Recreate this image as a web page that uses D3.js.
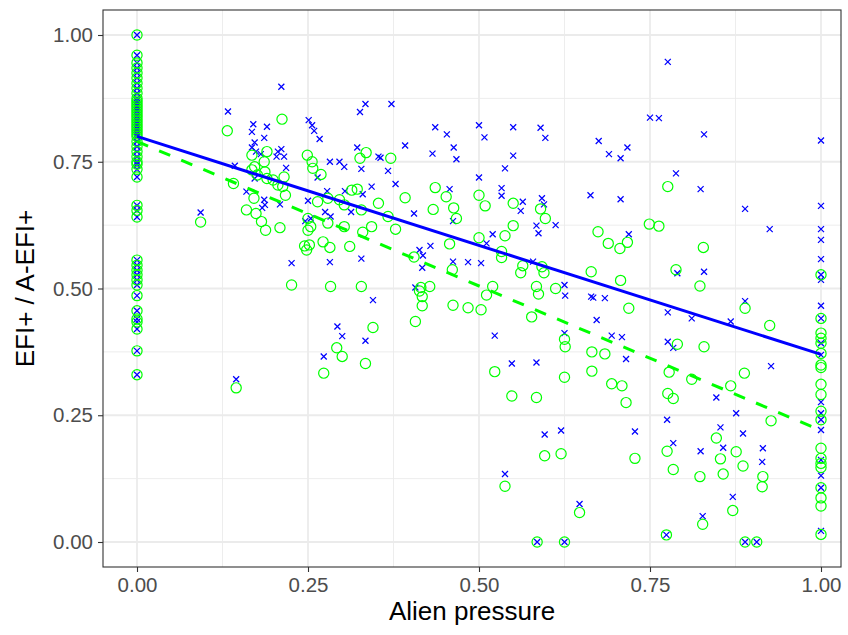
<!DOCTYPE html>
<html>
<head>
<meta charset="utf-8">
<script src="https://cdn.jsdelivr.net/npm/d3@7"></script>
<style>
  html, body { margin: 0; padding: 0; background: #fff; }
  svg { display: block; font-family: "Liberation Sans", Arial, Helvetica, sans-serif; }
</style>
</head>
<body>
<svg id="chart" width="848" height="635"></svg>
<script>
// Sites with no alien pressure: EFI+ and A-EFI+ coincide
const zeroPressureEfi = [
  [0,1.00],[0,0.960],[0,0.945],[0,0.935],[0,0.925],[0,0.915],[0,0.905],[0,0.895],
  [0,0.885],[0,0.875],[0,0.870],[0,0.865],[0,0.860],[0,0.855],[0,0.850],[0,0.845],
  [0,0.840],[0,0.835],[0,0.830],[0,0.825],[0,0.820],[0,0.815],[0,0.810],[0,0.805],
  [0,0.800],[0,0.790],[0,0.780],[0,0.770],[0,0.760],[0,0.750],[0,0.745],[0,0.735],
  [0,0.720],[0,0.664],[0,0.654],[0,0.641],[0,0.556],[0,0.546],[0,0.536],[0,0.527],
  [0,0.517],[0,0.507],[0,0.486],[0,0.456],[0,0.440],[0,0.434],[0,0.420],[0,0.377],[0,0.330]
];
const zeroPressureAefi = [
  [0,1.00],[0,0.960],[0,0.945],[0,0.935],[0,0.925],[0,0.915],[0,0.905],[0,0.895],
  [0,0.885],[0,0.875],[0,0.870],[0,0.865],[0,0.860],[0,0.855],[0,0.850],[0,0.845],
  [0,0.840],[0,0.835],[0,0.830],[0,0.825],[0,0.820],[0,0.815],[0,0.810],[0,0.805],
  [0,0.800],[0,0.790],[0,0.780],[0,0.770],[0,0.760],[0,0.750],[0,0.745],[0,0.735],
  [0,0.720],[0,0.664],[0,0.654],[0,0.641],[0,0.556],[0,0.546],[0,0.536],[0,0.527],
  [0,0.517],[0,0.507],[0,0.486],[0,0.456],[0,0.440],[0,0.434],[0,0.420],[0,0.377],[0,0.330]
];

// EFI+ (crosses): [alien pressure, index]
const efiPoints = [
  [0.093,0.650],[0.133,0.849],[0.143,0.742],[0.145,0.321],[0.160,0.691],[0.168,0.809],
  [0.168,0.778],[0.170,0.824],[0.172,0.788],[0.172,0.717],[0.174,0.770],[0.181,0.765],
  [0.183,0.659],[0.186,0.797],[0.186,0.675],[0.187,0.665],[0.190,0.819],[0.204,0.760],
  [0.206,0.770],[0.209,0.666],[0.211,0.775],[0.211,0.898],[0.215,0.760],[0.218,0.738],
  [0.226,0.550],[0.246,0.633],[0.250,0.673],[0.251,0.832],[0.254,0.638],[0.256,0.822],
  [0.259,0.811],[0.264,0.719],[0.267,0.795],[0.273,0.366],[0.275,0.651],[0.278,0.692],
  [0.282,0.750],[0.282,0.552],[0.283,0.642],[0.293,0.425],[0.296,0.750],[0.300,0.406],
  [0.303,0.740],[0.304,0.692],[0.313,0.651],[0.322,0.778],[0.326,0.848],[0.328,0.736],
  [0.328,0.559],[0.330,0.686],[0.334,0.864],[0.334,0.397],[0.343,0.701],[0.345,0.477],
  [0.353,0.760],[0.356,0.758],[0.367,0.732],[0.372,0.864],[0.378,0.706],[0.392,0.782],
  [0.405,0.648],[0.407,0.502],[0.413,0.576],[0.417,0.541],[0.418,0.565],[0.429,0.584],
  [0.432,0.766],[0.436,0.818],[0.453,0.804],[0.457,0.696],[0.462,0.633],[0.462,0.553],
  [0.463,0.778],[0.467,0.755],[0.484,0.552],[0.500,0.822],[0.500,0.719],[0.503,0.550],
  [0.508,0.798],[0.511,0.589],[0.520,0.607],[0.523,0.407],[0.533,0.698],[0.533,0.683],
  [0.538,0.737],[0.538,0.134],[0.548,0.352],[0.550,0.818],[0.550,0.762],[0.561,0.653],
  [0.564,0.671],[0.579,0.553],[0.584,0.624],[0.584,0.354],[0.585,0.000],[0.587,0.609],
  [0.590,0.817],[0.592,0.678],[0.595,0.666],[0.596,0.212],[0.597,0.797],[0.612,0.625],
  [0.620,0.220],[0.625,0.507],[0.626,0.486],[0.625,0.412],[0.625,0.000],[0.647,0.075],
  [0.664,0.484],[0.663,0.684],[0.667,0.482],[0.672,0.438],[0.675,0.791],[0.684,0.481],
  [0.690,0.765],[0.694,0.407],[0.707,0.757],[0.707,0.676],[0.709,0.404],[0.715,0.361],
  [0.717,0.778],[0.719,0.607],[0.728,0.218],[0.750,0.837],[0.763,0.836],[0.774,0.014],
  [0.775,0.241],[0.776,0.947],[0.776,0.453],[0.776,0.395],[0.784,0.383],[0.784,0.195],
  [0.788,0.727],[0.790,0.530],[0.811,0.441],[0.824,0.696],[0.824,0.179],[0.827,0.051],
  [0.829,0.804],[0.829,0.533],[0.847,0.285],[0.853,0.226],[0.857,0.186],[0.868,0.435],
  [0.871,0.089],[0.876,0.254],[0.886,0.214],[0.889,0.657],[0.889,0.475],[0.889,0.000],
  [0.906,0.000],[0.914,0.158],[0.915,0.185],[0.925,0.617],[0.927,0.347],
  [1,0.792],[1,0.663],[1,0.617],[1,0.596],[1,0.558],[1,0.527],[1,0.517],[1,0.466],
  [1,0.441],[1,0.392],[1,0.369],[1,0.276],[1,0.254],[1,0.241],[1,0.221],[1,0.162],
  [1,0.131],[1,0.107],[1,0.022]
];

// A-EFI+ (circles): [alien pressure, index]
const aefiPoints = [
  [0.093,0.631],[0.132,0.811],[0.141,0.707],[0.145,0.304],[0.160,0.655],[0.168,0.763],
  [0.168,0.734],[0.171,0.678],[0.172,0.740],[0.174,0.648],[0.176,0.724],[0.182,0.632],
  [0.186,0.750],[0.187,0.730],[0.188,0.615],[0.190,0.770],[0.190,0.717],[0.199,0.714],
  [0.206,0.704],[0.209,0.620],[0.212,0.834],[0.213,0.701],[0.215,0.720],[0.217,0.684],
  [0.226,0.507],[0.245,0.584],[0.248,0.576],[0.249,0.763],[0.250,0.638],[0.250,0.615],
  [0.252,0.586],[0.254,0.622],[0.256,0.750],[0.257,0.737],[0.264,0.671],[0.269,0.725],
  [0.272,0.592],[0.273,0.333],[0.279,0.678],[0.279,0.629],[0.282,0.581],[0.283,0.504],
  [0.292,0.383],[0.296,0.675],[0.300,0.366],[0.303,0.665],[0.303,0.622],[0.311,0.583],
  [0.314,0.694],[0.322,0.696],[0.326,0.757],[0.328,0.655],[0.328,0.504],[0.330,0.611],
  [0.334,0.352],[0.335,0.768],[0.343,0.622],[0.345,0.423],[0.353,0.668],[0.367,0.642],
  [0.371,0.757],[0.378,0.617],[0.392,0.679],[0.405,0.562],[0.407,0.435],[0.413,0.495],
  [0.415,0.502],[0.417,0.484],[0.417,0.466],[0.428,0.504],[0.433,0.656],[0.436,0.699],
  [0.452,0.681],[0.457,0.588],[0.461,0.537],[0.462,0.467],[0.463,0.659],[0.467,0.638],
  [0.484,0.462],[0.500,0.684],[0.500,0.600],[0.503,0.458],[0.509,0.663],[0.511,0.487],
  [0.520,0.504],[0.523,0.336],[0.533,0.573],[0.533,0.561],[0.538,0.604],[0.538,0.110],
  [0.548,0.288],[0.550,0.668],[0.550,0.624],[0.561,0.531],[0.564,0.545],[0.577,0.444],
  [0.584,0.504],[0.584,0.285],[0.585,0.000],[0.587,0.489],[0.590,0.657],[0.592,0.543],
  [0.595,0.531],[0.596,0.170],[0.597,0.638],[0.612,0.500],[0.620,0.174],[0.625,0.400],
  [0.626,0.385],[0.625,0.325],[0.625,0.000],[0.647,0.058],[0.664,0.533],[0.665,0.375],
  [0.665,0.337],[0.674,0.612],[0.684,0.371],[0.689,0.589],[0.694,0.312],[0.706,0.579],
  [0.707,0.516],[0.709,0.308],[0.715,0.275],[0.717,0.591],[0.719,0.461],[0.728,0.165],
  [0.749,0.627],[0.763,0.623],[0.774,0.014],[0.775,0.179],[0.776,0.701],[0.776,0.293],
  [0.778,0.335],[0.784,0.283],[0.784,0.143],[0.788,0.537],[0.790,0.390],[0.811,0.321],
  [0.823,0.505],[0.823,0.129],[0.827,0.035],[0.828,0.581],[0.829,0.385],[0.847,0.205],
  [0.853,0.164],[0.857,0.134],[0.868,0.308],[0.871,0.062],[0.876,0.178],[0.886,0.150],
  [0.888,0.333],[0.889,0.461],[0.889,0.000],[0.906,0.000],[0.914,0.109],[0.915,0.129],
  [0.925,0.427],[0.927,0.239],
  [1,0.527],[1,0.441],[1,0.412],[1,0.402],[1,0.392],[1,0.372],[1,0.349],[1,0.344],
  [1,0.311],[1,0.291],[1,0.258],[1,0.241],[1,0.185],[1,0.165],[1,0.155],[1,0.147],
  [1,0.107],[1,0.087],[1,0.071],[1,0.015]
];

// Linear fits: [intercept, slope]
const efiFit = [0.800, -0.430];
const aefiFit = [0.790, -0.570];

const xTicks = [0, 0.25, 0.5, 0.75, 1];
const yTicks = [0, 0.25, 0.5, 0.75, 1];
const xMinor = [0.125, 0.375, 0.625, 0.875];
const yMinor = [0.125, 0.375, 0.625, 0.875];
const xTitle = "Alien pressure";
const yTitle = "EFI+ / A-EFI+";

const svg = d3.select("#chart");
const panel = { left: 103, top: 10, right: 841, bottom: 567 };

const x = d3.scaleLinear().domain([0, 1]).range([137, 821]);
const y = d3.scaleLinear().domain([0, 1]).range([542, 35]);

const fmt = d3.format(".2f");

// panel background and grid
svg.append("rect")
  .attr("x", panel.left).attr("y", panel.top)
  .attr("width", panel.right - panel.left).attr("height", panel.bottom - panel.top)
  .attr("fill", "#fff");

const grid = svg.append("g");
grid.selectAll("line.xminor").data(xMinor).join("line")
  .attr("x1", d => x(d)).attr("x2", d => x(d))
  .attr("y1", panel.top).attr("y2", panel.bottom)
  .attr("stroke", "#EBEBEB").attr("stroke-width", 0.9);
grid.selectAll("line.yminor").data(yMinor).join("line")
  .attr("y1", d => y(d)).attr("y2", d => y(d))
  .attr("x1", panel.left).attr("x2", panel.right)
  .attr("stroke", "#EBEBEB").attr("stroke-width", 0.9);
grid.selectAll("line.xmajor").data(xTicks).join("line")
  .attr("x1", d => x(d)).attr("x2", d => x(d))
  .attr("y1", panel.top).attr("y2", panel.bottom)
  .attr("stroke", "#EBEBEB").attr("stroke-width", 1.8);
grid.selectAll("line.ymajor").data(yTicks).join("line")
  .attr("y1", d => y(d)).attr("y2", d => y(d))
  .attr("x1", panel.left).attr("x2", panel.right)
  .attr("stroke", "#EBEBEB").attr("stroke-width", 1.8);

// clip marks to the panel
svg.append("clipPath").attr("id", "panel-clip").append("rect")
  .attr("x", panel.left).attr("y", panel.top)
  .attr("width", panel.right - panel.left).attr("height", panel.bottom - panel.top);
const plot = svg.append("g").attr("clip-path", "url(#panel-clip)");

const efiAll = zeroPressureEfi.concat(efiPoints);
const aefiAll = zeroPressureAefi.concat(aefiPoints);

// EFI+ crosses
const cs = 3.0;
plot.append("g").selectAll("path").data(efiAll).join("path")
  .attr("transform", d => `translate(${x(d[0])},${y(d[1])})`)
  .attr("d", `M${-cs},${-cs}L${cs},${cs}M${-cs},${cs}L${cs},${-cs}`)
  .attr("stroke", "#0000FF").attr("stroke-width", 1.25).attr("fill", "none");

// A-EFI+ open circles
plot.append("g").selectAll("circle").data(aefiAll).join("circle")
  .attr("cx", d => x(d[0])).attr("cy", d => y(d[1]))
  .attr("r", 5.1)
  .attr("fill", "none").attr("stroke", "#00FF00").attr("stroke-width", 1.2);

// fitted lines across the pressure range
const fitLine = f => d3.line()
  .x(d => x(d))
  .y(d => y(f[0] + f[1] * d));
const fitDomain = [0, 1];

plot.append("path").datum(fitDomain)
  .attr("d", fitLine(efiFit))
  .attr("stroke", "#0000FF").attr("stroke-width", 3).attr("fill", "none");
plot.append("path").datum(fitDomain)
  .attr("d", fitLine(aefiFit))
  .attr("stroke", "#00FF00").attr("stroke-width", 3).attr("fill", "none")
  .attr("stroke-dasharray", "12,12");

// panel border
svg.append("rect")
  .attr("x", panel.left).attr("y", panel.top)
  .attr("width", panel.right - panel.left).attr("height", panel.bottom - panel.top)
  .attr("fill", "none").attr("stroke", "#333333").attr("stroke-width", 1.1);

// axes
const xAxis = d3.axisBottom(x).tickValues(xTicks).tickFormat(fmt).tickSize(5).tickPadding(5);
const yAxis = d3.axisLeft(y).tickValues(yTicks).tickFormat(fmt).tickSize(5).tickPadding(5);

const gx = svg.append("g").attr("transform", `translate(0,${panel.bottom})`).call(xAxis);
const gy = svg.append("g").attr("transform", `translate(${panel.left},0)`).call(yAxis);
[gx, gy].forEach(g => {
  g.select(".domain").remove();
  g.selectAll(".tick line").attr("stroke", "#333333").attr("stroke-width", 1.1);
  g.selectAll(".tick text").attr("fill", "#4D4D4D")
    .style("font-size", "20.5px")
    .style("font-family", "'Liberation Sans', Arial, Helvetica, sans-serif");
});

// axis titles
svg.append("text")
  .attr("x", (panel.left + panel.right) / 2).attr("y", 620)
  .attr("text-anchor", "middle")
  .style("font-size", "26px").attr("fill", "#000")
  .text(xTitle);
svg.append("text")
  .attr("transform", `translate(34,${(panel.top + panel.bottom) / 2}) rotate(-90)`)
  .attr("text-anchor", "middle")
  .style("font-size", "26px").attr("fill", "#000")
  .text(yTitle);
</script>
</body>
</html>
